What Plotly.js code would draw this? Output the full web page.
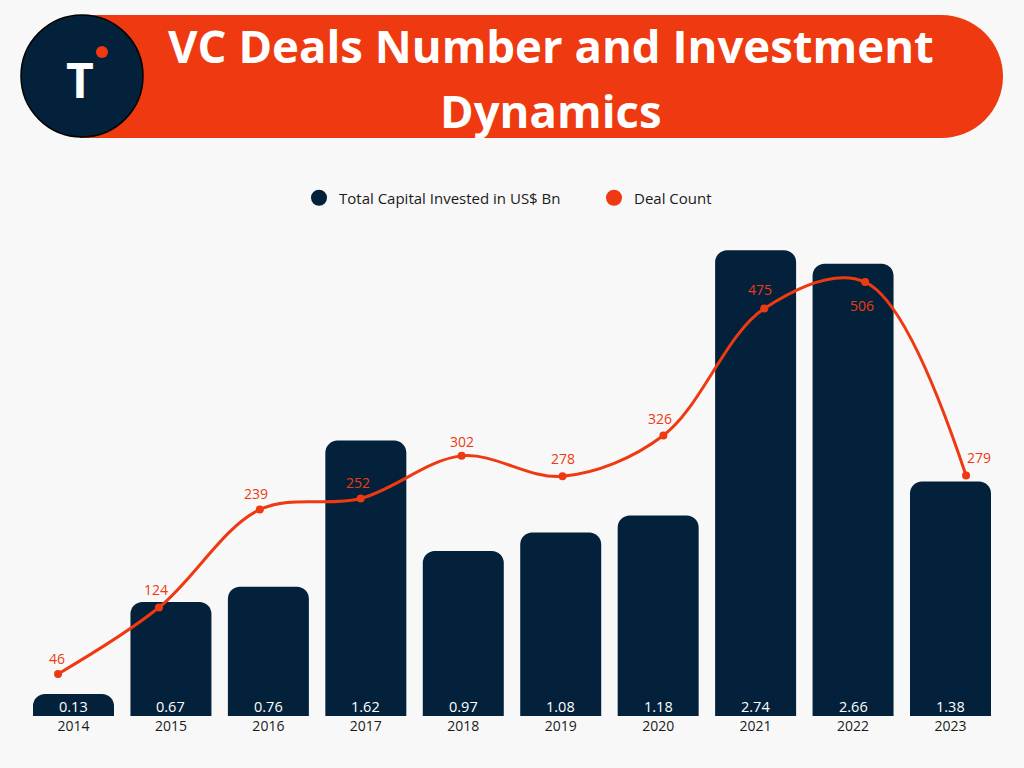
<!DOCTYPE html>
<html>
<head>
<meta charset="utf-8">
<script src="https://cdn.plot.ly/plotly-3.0.1.min.js"></script>
<style>html,body{margin:0;padding:0;background:#f8f8f8;}</style>
</head>
<body>
<div id="chart" style="width:1024px;height:768px;"></div>
<script>
const years = [2014, 2015, 2016, 2017, 2018, 2019, 2020, 2021, 2022, 2023];
const capitalInvested = [0.13, 0.67, 0.76, 1.62, 0.97, 1.08, 1.18, 2.74, 2.66, 1.38];
const dealCount = [46, 124, 239, 252, 302, 278, 326, 475, 506, 279];
const titleLines = ['VC Deals Number and Investment', 'Dynamics'];
const seriesNames = ['Total Capital Invested in US$ Bn', 'Deal Count'];

const NAVY = '#03213a';
const ORANGE = '#ee3911';
const FONT = 'Open Sans, sans-serif';

// pixel -> paper helpers (plot area: left 20, width 984, top 230, bottom 716)
const L = 20, W = 984, B = 716, H = 486;
const px = v => (v - L) / W;
const py = v => (B - v) / H;

// per-label pixel offsets of the deal-count labels relative to their markers
const labelDx = [-1, -3, -4, -3, 0, 0, -3, -4, -3, 13];
const labelDy = [15, 18, 16, 16, 14, 18, 17, 19, -23, 18];

const traces = [
  {
    type: 'bar', x: years, y: capitalInvested, width: 0.831,
    marker: {color: NAVY},
    hoverinfo: 'skip', showlegend: false, xaxis: 'x', yaxis: 'y'
  },
  {
    type: 'scatter', mode: 'lines+markers', x: years, y: dealCount,
    line: {shape: 'spline', color: ORANGE, width: 3},
    marker: {color: ORANGE, size: 8},
    cliponaxis: false, showlegend: false, xaxis: 'x2', yaxis: 'y2'
  },
  {type: 'scatter', mode: 'markers', x: [null], y: [null], name: seriesNames[0],
   marker: {color: NAVY, size: 17}, xaxis: 'x', yaxis: 'y'},
  {type: 'scatter', mode: 'markers', x: [null], y: [null], name: seriesNames[1],
   marker: {color: ORANGE, size: 17}, xaxis: 'x', yaxis: 'y'}
];

const barLabels = capitalInvested.map((v, i) => ({
  xref: 'x', yref: 'y', x: years[i], y: 0, text: v.toFixed(2), showarrow: false,
  xanchor: 'center', yanchor: 'bottom', yshift: -2,
  font: {size: 14.5, color: '#ffffff', family: FONT}
}));

const lineLabels = dealCount.map((v, i) => ({
  xref: 'x2', yref: 'y2', x: years[i], y: v, text: String(v), showarrow: false,
  xanchor: 'center', yanchor: 'middle', xshift: labelDx[i], yshift: labelDy[i],
  font: {size: 14, color: ORANGE, family: FONT}
}));

const layout = {
  width: 1024, height: 768,
  margin: {l: 20, r: 20, t: 230, b: 52},
  paper_bgcolor: '#f8f8f8', plot_bgcolor: '#f8f8f8',
  font: {family: FONT, color: '#1a1a1a'},
  barcornerradius: 12,
  xaxis: {range: [2013.451, 2023.549], tickmode: 'array', tickvals: years, ticktext: years.map(String),
          showgrid: false, zeroline: false, showline: false, ticks: '',
          tickfont: {size: 14, color: '#1a1a1a', family: FONT}},
  xaxis2: {range: [2013.623, 2023.376], overlaying: 'x', visible: false},
  yaxis: {range: [0, 2.859], visible: false, showgrid: false, zeroline: false},
  yaxis2: {range: [-3.3, 567.1], overlaying: 'y', visible: false, showgrid: false, zeroline: false},
  legend: {orientation: 'h', x: px(299), xanchor: 'left', y: py(198), yanchor: 'middle',
           entrywidth: 250, entrywidthmode: 'pixels',
           font: {size: 15, color: '#1a1a1a', family: FONT}, bgcolor: 'rgba(0,0,0,0)',
           itemsizing: 'trace'},
  shapes: [
    {type: 'rect', xref: 'paper', yref: 'paper', x0: px(80), x1: px(942), y0: py(138), y1: py(15),
     fillcolor: ORANGE, line: {width: 0}},
    {type: 'circle', xref: 'paper', yref: 'paper', x0: px(880), x1: px(1003), y0: py(138), y1: py(15),
     fillcolor: ORANGE, line: {width: 0}},
    {type: 'circle', xref: 'paper', yref: 'paper', x0: px(21), x1: px(143), y0: py(137), y1: py(15),
     fillcolor: NAVY, line: {color: '#000000', width: 1.5}},
    {type: 'circle', xref: 'paper', yref: 'paper', x0: px(96), x1: px(108), y0: py(58), y1: py(46),
     fillcolor: ORANGE, line: {width: 0}}
  ],
  annotations: [
    {xref: 'paper', yref: 'paper', x: px(80), y: py(80), text: '<b>T</b>', showarrow: false,
     xanchor: 'center', yanchor: 'middle', font: {size: 48, color: '#ffffff', family: FONT}},
    {xref: 'paper', yref: 'paper', x: px(551), y: py(45), text: '<b>' + titleLines[0] + '</b>', showarrow: false,
     xanchor: 'center', yanchor: 'middle', font: {size: 45.5, color: '#ffffff', family: FONT}},
    {xref: 'paper', yref: 'paper', x: px(551), y: py(110), text: '<b>' + titleLines[1] + '</b>', showarrow: false,
     xanchor: 'center', yanchor: 'middle', font: {size: 45.5, color: '#ffffff', family: FONT}}
  ].concat(barLabels, lineLabels)
};

Plotly.newPlot('chart', traces, layout, {displayModeBar: false, staticPlot: true});
</script>
</body>
</html>
